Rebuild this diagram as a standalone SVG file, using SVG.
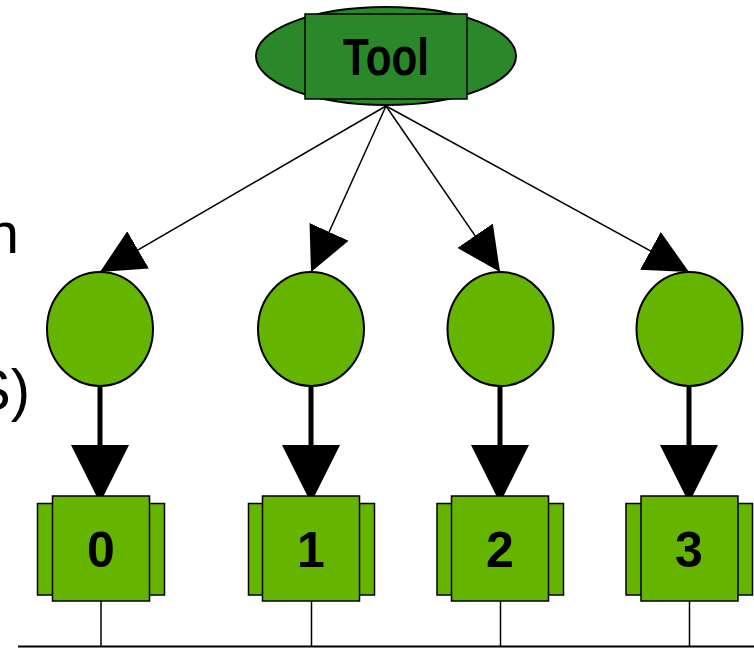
<svg xmlns="http://www.w3.org/2000/svg" width="754" height="648" viewBox="0 0 754 648">
  <style>
    .tool { fill: #2a882a; stroke: #000; stroke-width: 2; }
    .toolbox { fill: #2a882a; stroke: #000; stroke-width: 1.5; }
    .circ { fill: #64b400; stroke: #000; stroke-width: 2; }
    .box { fill: #64b400; stroke: #000; stroke-width: 1.5; }
    .lbl { font-family: "Liberation Sans", Arial, sans-serif; font-weight: bold; fill: #000; text-anchor: middle; }
    .side { font-family: "Liberation Sans", Arial, sans-serif; font-size: 58px; fill: #000; text-anchor: end; }
    .thin { stroke: #000; stroke-width: 1.5; fill: none; marker-end: url(#ah); }
    .thick { stroke: #000; stroke-width: 5; fill: none; marker-end: url(#bh); }
    .wire { stroke: #000; stroke-width: 1.5; fill: none; }
  </style>
  <defs>
    <marker id="ah" markerUnits="userSpaceOnUse" markerWidth="44" markerHeight="43" refX="44" refY="21.5" orient="auto">
      <path d="M0,0 L44,21.5 L0,43 z" fill="#000"/>
    </marker>
    <marker id="bh" markerUnits="userSpaceOnUse" markerWidth="58" markerHeight="58" refX="58" refY="29" orient="auto">
      <path d="M0,0 L58,29 L0,58 z" fill="#000"/>
    </marker>
  </defs>

  <text class="side" x="19" y="253">n</text>
  <text class="side" x="30" y="410">S)</text>

  <g id="connectors">
    <line class="thin" x1="386" y1="106" x2="100" y2="272"/>
    <line class="thin" x1="386" y1="106" x2="311" y2="272"/>
    <line class="thin" x1="386" y1="106" x2="500" y2="272"/>
    <line class="thin" x1="386" y1="106" x2="689" y2="272"/>
    <line class="thick" x1="100" y1="386" x2="100" y2="503"/>
    <line class="thick" x1="311" y1="386" x2="311" y2="503"/>
    <line class="thick" x1="500" y1="386" x2="500" y2="503"/>
    <line class="thick" x1="689" y1="386" x2="689" y2="503"/>
    <line class="wire" x1="101" y1="601" x2="101" y2="647"/>
    <line class="wire" x1="311.5" y1="601" x2="311.5" y2="647"/>
    <line class="wire" x1="500.5" y1="601" x2="500.5" y2="647"/>
    <line class="wire" x1="689.5" y1="601" x2="689.5" y2="647"/>
    <line x1="18" y1="646.5" x2="754" y2="646.5" stroke="#000" stroke-width="2"/>
  </g>

  <g id="tool">
    <ellipse class="tool" cx="386" cy="56" rx="130" ry="49"/>
    <rect class="toolbox" x="305" y="14" width="162" height="85"/>
    <text class="lbl" x="386" y="75" font-size="51" textLength="86" lengthAdjust="spacingAndGlyphs">Tool</text>
  </g>

  <g id="c0"><ellipse class="circ" cx="100" cy="329" rx="53" ry="57"/></g>
  <g id="c1"><ellipse class="circ" cx="311" cy="329" rx="53" ry="57"/></g>
  <g id="c2"><ellipse class="circ" cx="500.5" cy="329" rx="53" ry="57"/></g>
  <g id="c3"><ellipse class="circ" cx="689.5" cy="329" rx="53" ry="57"/></g>

  <g id="b0">
    <rect class="box" x="37.5" y="503.5" width="127" height="91.5"/>
    <rect class="box" x="52.5" y="496" width="97" height="105"/>
    <text class="lbl" x="101" y="567" font-size="50">0</text>
  </g>
  <g id="b1">
    <rect class="box" x="248.5" y="503.5" width="126" height="91.5"/>
    <rect class="box" x="262.5" y="496" width="97" height="105"/>
    <text class="lbl" x="311" y="567" font-size="50">1</text>
  </g>
  <g id="b2">
    <rect class="box" x="437" y="503.5" width="126.5" height="91.5"/>
    <rect class="box" x="451.5" y="496" width="97" height="105"/>
    <text class="lbl" x="500" y="567" font-size="50">2</text>
  </g>
  <g id="b3">
    <rect class="box" x="626" y="503.5" width="126.5" height="91.5"/>
    <rect class="box" x="641" y="496" width="97" height="105"/>
    <text class="lbl" x="689" y="567" font-size="50">3</text>
  </g>
</svg>
